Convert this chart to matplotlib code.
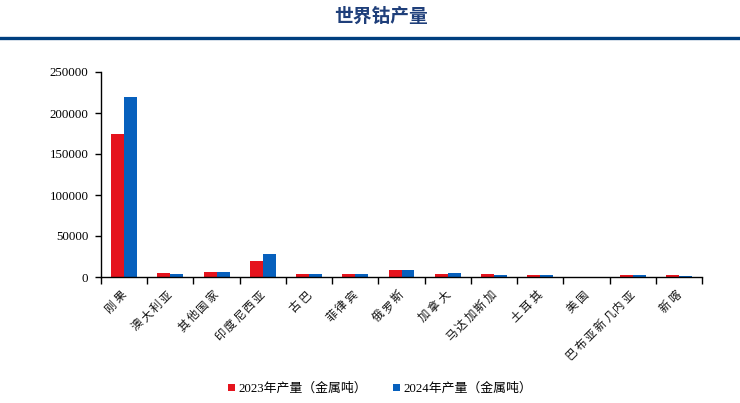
import numpy as np
import matplotlib
matplotlib.use("Agg")
import matplotlib.pyplot as plt

plt.rcParams['font.family'] = ['Liberation Serif', 'Noto Sans CJK SC', 'DejaVu Sans']

countries = ['刚果', '澳大利亚', '其他国家', '印度尼西亚', '古巴', '菲律宾', '俄罗斯',
             '加拿大', '马达加斯加', '土耳其', '美国', '巴布亚新几内亚', '新喀']
prod_2023 = [175000, 4900, 5600, 19000, 3300, 3800, 8900, 4000, 3600, 2000, 0, 3000, 2800]
prod_2024 = [220000, 3300, 6100, 28000, 3500, 3800, 8700, 4500, 2900, 2200, 0, 2900, 1600]
yticks = [0, 50000, 100000, 150000, 200000, 250000]

red = '#E5131D'
blue = '#0760BD'

fig = plt.figure(figsize=(7.4, 4.03), dpi=100)
ax = fig.add_axes([101 / 740, 1 - 277 / 403, 601 / 740, 205 / 403])

x = np.arange(len(countries))
w = 0.28
ax.bar(x - w / 2, prod_2023, w, color=red, label='2023年产量（金属吨）')
ax.bar(x + w / 2, prod_2024, w, color=blue, label='2024年产量（金属吨）')

ax.set_xlim(-0.5, len(countries) - 0.5)
ax.set_ylim(0, 250000)
ax.set_yticks(yticks)
ax.set_yticklabels([str(v) for v in yticks], fontsize=9.3)
ax.set_xticks(np.arange(len(countries) + 1) - 0.5)
ax.set_xticklabels([])
ax.tick_params(axis='x', length=5, width=1, direction='out')
ax.tick_params(axis='y', length=4, width=1, direction='out', pad=5)
for s in ['top', 'right']:
    ax.spines[s].set_visible(False)
for s in ['left', 'bottom']:
    ax.spines[s].set_linewidth(1)

# category labels: one character at a time along a 45 degree line (spaced like the original)
step = 9.5
for i, name in enumerate(countries):
    n = len(name)
    for j, ch in enumerate(name):
        k = n - 1 - j
        dx = -4 - k * step
        dy = -20 - k * step
        ax.annotate(ch, xy=(i, 0), xycoords='data', xytext=(dx * 0.72, dy * 0.72),
                    textcoords='offset points', rotation=45, ha='center', va='center',
                    fontsize=8.3, family=['Noto Sans CJK SC'], annotation_clip=False,
                    color='#111111')

leg = fig.legend(loc='center', bbox_to_anchor=(380 / 740, 1 - 389 / 403), ncol=2,
                 frameon=False, handlelength=0.55, handleheight=0.55,
                 handletextpad=0.25, columnspacing=2.0,
                 prop={'family': ['Liberation Serif', 'Noto Sans CJK SC'], 'size': 9.3})

fig.text(381 / 740, 1 - 16 / 403, '世界钴产量', ha='center', va='center', fontsize=13.5,
         color='#1F3F7A', fontweight='bold', family=['Noto Sans CJK SC'])
fig.add_artist(plt.Line2D([0, 1], [1 - 38.3 / 403, 1 - 38.3 / 403], color='#003F7F', lw=2.4,
                          transform=fig.transFigure))

fig.savefig('out.png', dpi=100)
